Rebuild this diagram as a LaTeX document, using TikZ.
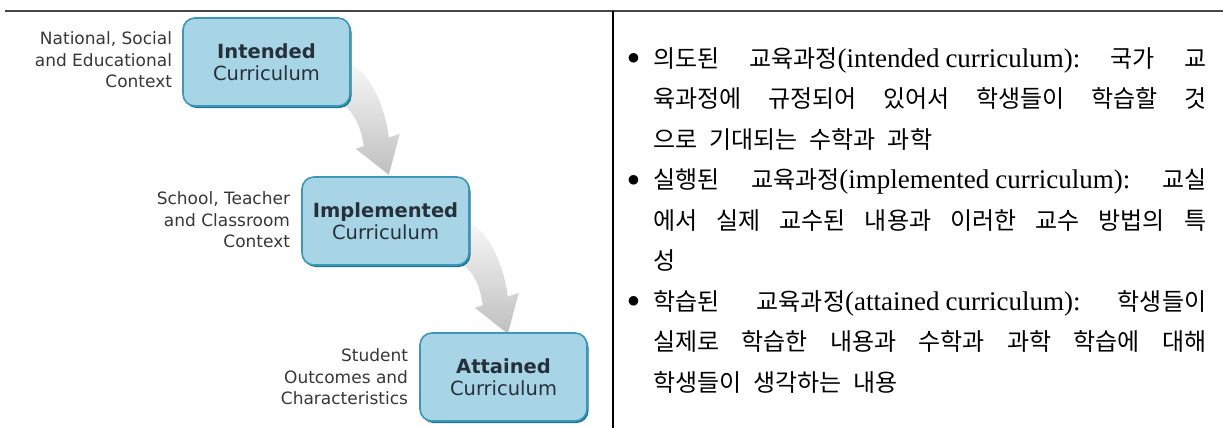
\documentclass[tikz,border=0pt]{standalone}
\usepackage{fontspec}
\setmainfont{DejaVu Sans}
\newfontfamily\krfont{Noto Sans CJK KR}
\newfontfamily\latinfont{Liberation Serif}
\usepackage{tikz}
\usetikzlibrary{positioning}
\usetikzlibrary{shadows}
\usetikzlibrary{backgrounds}

\definecolor{currfill}{RGB}{168,213,229}
\definecolor{curredge}{RGB}{62,150,185}
\definecolor{currshadow}{RGB}{22,118,152}
\definecolor{currtext}{RGB}{38,48,58}
\definecolor{ctxtext}{RGB}{55,55,55}
\definecolor{rulecol}{RGB}{70,70,70}

\newcommand{\notespacing}{\spaceskip=12pt plus 40pt\relax\xspaceskip=12pt plus 40pt\relax}
\newcommand{\fullline}[1]{\makebox[\linewidth][s]{#1}}
\newcommand{\bulletmark}{\llap{\raisebox{2.5pt}{\fontsize{26}{26}\selectfont$\bullet$}\hspace{13.5pt}}}
\newcommand{\eng}[1]{{\latinfont\fontsize{27}{27}\selectfont #1}}

\begin{document}
\begin{tikzpicture}[x=1pt, y=-1pt,
  curr/.style={draw=curredge, line width=1.6pt, fill=currfill, rounded corners=12pt,
    minimum width=167pt, minimum height=88pt, align=center, text=currtext,
    font=\fontsize{19.5}{22}\selectfont,
    drop shadow={shadow xshift=1.5pt, shadow yshift=-2pt, fill=currshadow, opacity=1}},
  context/.style={align=right, inner sep=0pt, text=ctxtext, font=\fontsize{17}{21.5}\selectfont},
  flow/.style={top color=gray!6, bottom color=gray!50},
  notes/.style={anchor=base west, inner sep=0pt, text width=553pt, font=\krfont\fontsize{24}{40.5}\selectfont}]
\useasboundingbox (0,0) rectangle (1223,428);

% frame
\draw[rulecol, line width=1.3pt] (5,11) -- (1223,11);
\draw[black, line width=1.2pt] (613,11) -- (613,428);

% curriculum boxes
\node[curr] (int) at (266.5,62) {\textbf{Intended}\\Curriculum};
\node[curr] (imp) at (385.5,221) {\textbf{Implemented}\\Curriculum};
\node[curr] (att) at (503.5,377) {\textbf{Attained}\\Curriculum};

\node[context, left=10pt of int, yshift=2pt] (intctx) {National, Social\\and Educational\\Context};
\node[context, left=11pt of imp, yshift=1pt] (impctx) {School, Teacher\\and Classroom\\Context};
\node[context, left=11pt of att] (attctx) {Student\\Outcomes and\\Characteristics};

% bent arrows behind the boxes
\foreach \from in {int,imp}
{
  \begin{scope}[on background layer, shift={(\from.south east)}]
    \shade[flow] (-2,-44) .. controls (18,-36) and (34,-2) .. (38,30.8) -- (49,27) -- (38,68)
      -- (5,42) -- (13,39.3) .. controls (10,20) and (4,6) .. (-8,-2) -- cycle;
  \end{scope}
}

% description
\node[notes] (notes) at (653,67) {\notespacing
\fullline{\bulletmark 의도된 교육과정\eng{(intended\hspace{6pt}curriculum):} 국가 교}\\
\fullline{육과정에 규정되어 있어서 학생들이 학습할 것}\\
으로 기대되는 수학과 과학\\
\fullline{\bulletmark 실행된 교육과정\eng{(implemented\hspace{6pt}curriculum):} 교실}\\
\fullline{에서 실제 교수된 내용과 이러한 교수 방법의 특}\\
성\\
\fullline{\bulletmark 학습된 교육과정\eng{(attained\hspace{6pt}curriculum):} 학생들이}\\
\fullline{실제로 학습한 내용과 수학과 과학 학습에 대해}\\
학생들이 생각하는 내용};
\end{tikzpicture}
\end{document}
